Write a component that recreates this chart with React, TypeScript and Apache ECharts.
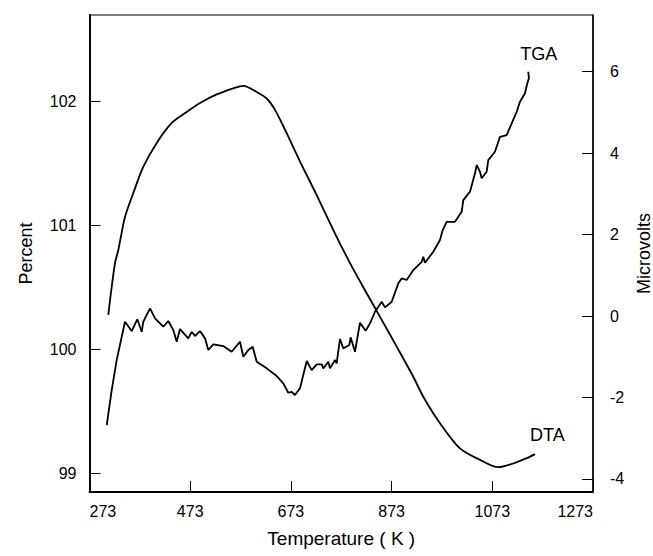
import { useEffect, useRef } from "react";
import * as echarts from "echarts";

const xTicks = [273, 473, 673, 873, 1073, 1273];
const percentTicks = [99, 100, 101, 102];
const microvoltTicks = [-4, -2, 0, 2, 4, 6];

// TGA curve (left axis, Percent)
const tgaTemp = [
  307.2, 317.1, 327.0, 343.5, 356.8, 367.9, 376.7, 379.8, 393.2, 403.1,
  419.6, 429.5, 439.4, 446.2, 452.7, 469.2, 476.0, 482.5, 492.5, 502.4,
  509.0, 518.9, 538.7, 555.4, 571.9, 578.5, 588.4, 597.1, 605.1, 624.9,
  644.8, 657.9, 667.8, 674.6, 681.1, 691.1, 704.4, 714.3, 724.2, 734.2,
  737.3, 747.3, 750.6, 760.6, 763.9, 770.5, 777.1, 789.0, 791.7, 800.3,
  810.2, 821.5, 830.1, 840.0, 853.3, 859.9, 873.2, 886.3, 893.0, 903.0,
  916.1, 932.8, 935.9, 939.3, 955.8, 969.1, 974.5, 982.4, 998.9, 1012.2,
  1015.4, 1028.7, 1038.6, 1042.0, 1048.5, 1051.9, 1061.8, 1065.0, 1078.3, 1088.3,
  1101.6, 1111.5, 1121.4, 1128.0, 1137.9, 1142.5, 1145.8, 1144.4,
];
const tgaPercent = [
  99.387, 99.670, 99.912, 100.221, 100.146, 100.241, 100.140, 100.221, 100.329, 100.249,
  100.181, 100.227, 100.154, 100.060, 100.162, 100.087, 100.140, 100.106, 100.146, 100.087,
  99.993, 100.039, 100.025, 99.979, 100.060, 99.939, 99.993, 100.019, 99.898, 99.845,
  99.783, 99.724, 99.648, 99.656, 99.630, 99.684, 99.904, 99.831, 99.877, 99.877,
  99.845, 99.898, 99.845, 99.912, 99.885, 100.082, 100.006, 100.033, 100.095, 99.979,
  100.213, 100.148, 100.208, 100.302, 100.383, 100.337, 100.383, 100.531, 100.571, 100.558,
  100.638, 100.705, 100.746, 100.697, 100.786, 100.881, 100.961, 101.028, 101.028, 101.109,
  101.203, 101.270, 101.419, 101.486, 101.432, 101.379, 101.432, 101.526, 101.593, 101.714,
  101.728, 101.822, 101.916, 101.997, 102.065, 102.145, 102.186, 102.239,
];

// DTA curve (right axis, Microvolts)
const dtaTemp = [
  310.3, 323.6, 330.2, 343.5, 360.0, 379.8, 406.5, 436.3, 466.0, 492.5,
  525.6, 558.6, 578.5, 605.1, 624.9, 641.4, 664.6, 691.1, 724.2, 757.2,
  790.4, 823.5, 850.0, 883.1, 916.1, 935.9, 969.1, 1008.8, 1048.5, 1084.9,
  1114.7, 1141.3, 1157.8,
];
const dtaMicrovolts = [
  0.03, 1.30, 1.62, 2.43, 3.02, 3.66, 4.25, 4.74, 5.01, 5.23,
  5.44, 5.59, 5.65, 5.50, 5.34, 5.06, 4.49, 3.79, 2.97, 2.11,
  1.30, 0.56, -0.02, -0.75, -1.49, -1.98, -2.63, -3.25, -3.53, -3.71,
  -3.62, -3.49, -3.39,
];

const FONT = "'Liberation Sans', Arial, Helvetica, sans-serif";

export default function App() {
  const ref = useRef<HTMLDivElement>(null);

  useEffect(() => {
    document.body.style.margin = "0";
    const chart = echarts.init(ref.current as HTMLDivElement, null, { renderer: "svg" });
    const option: any = {
      animation: false,
      backgroundColor: "#ffffff",
      textStyle: { fontFamily: FONT, color: "#000" },
      grid: {
        left: 89.5,
        right: 60,
        top: 15,
        bottom: 64,
        containLabel: false,
        outerBoundsMode: "none",
        show: true,
        borderColor: "#000",
        borderWidth: 1,
        backgroundColor: "transparent",
      },
      xAxis: {
        type: "value",
        min: xTicks[0],
        max: xTicks[xTicks.length - 1],
        interval: 200,
        name: "Temperature ( K )",
        nameLocation: "middle",
        nameGap: 37,
        nameTextStyle: { fontFamily: FONT, fontSize: 19, color: "#000" },
        axisLine: { show: true, onZero: false, lineStyle: { color: "#000", width: 2 } },
        axisTick: { show: true, inside: true, length: 11, lineStyle: { color: "#000", width: 1 } },
        axisLabel: {
          show: true,
          fontFamily: FONT,
          fontSize: 16,
          color: "#000",
          margin: 11,
          alignMinLabel: "left",
          alignMaxLabel: "right",
          formatter: (v: number) => String(v),
        },
        splitLine: { show: false },
      },
      yAxis: [
        {
          type: "value",
          position: "left",
          min: 98.847,
          max: 102.697,
          name: "Percent",
          nameLocation: "middle",
          nameGap: 55,
          nameTextStyle: { fontFamily: FONT, fontSize: 18, color: "#000" },
          axisLine: { show: true, onZero: false, lineStyle: { color: "#000", width: 2 } },
          axisTick: {
            show: true,
            inside: true,
            length: 11,
            customValues: percentTicks,
            lineStyle: { color: "#000", width: 1 },
          },
          axisLabel: {
            show: true,
            fontFamily: FONT,
            fontSize: 16,
            color: "#000",
            margin: 13,
            customValues: percentTicks,
            formatter: (v: number) => String(Math.round(v)),
          },
          splitLine: { show: false },
        },
        {
          type: "value",
          position: "right",
          min: -4.32,
          max: 7.39,
          name: "Microvolts",
          nameLocation: "middle",
          nameGap: 29,
          nameTextStyle: { fontFamily: FONT, fontSize: 18, color: "#000" },
          axisLine: { show: true, onZero: false, lineStyle: { color: "#000", width: 1.5 } },
          axisTick: {
            show: true,
            inside: true,
            length: 11,
            customValues: microvoltTicks,
            lineStyle: { color: "#000", width: 1 },
          },
          axisLabel: {
            show: true,
            fontFamily: FONT,
            fontSize: 16,
            color: "#000",
            margin: 17,
            align: "left",
            customValues: microvoltTicks,
            formatter: (v: number) => String(Math.round(v)),
          },
          splitLine: { show: false },
        },
      ],
      series: [
        {
          type: "line",
          name: "TGA",
          yAxisIndex: 0,
          data: tgaTemp.map((t, i) => [t, tgaPercent[i]]),
          showSymbol: false,
          symbol: "none",
          silent: true,
          emphasis: { disabled: true },
          lineStyle: { color: "#000", width: 1.8 },
          endLabel: {
            show: true,
            formatter: "TGA",
            fontFamily: FONT,
            fontSize: 18,
            color: "#000",
            offset: [-16, -18],
          },
        },
        {
          type: "line",
          name: "DTA",
          yAxisIndex: 1,
          data: dtaTemp.map((t, i) => [t, dtaMicrovolts[i]]),
          showSymbol: false,
          symbol: "none",
          smooth: 0.3,
          silent: true,
          emphasis: { disabled: true },
          lineStyle: { color: "#000", width: 1.8 },
          endLabel: {
            show: true,
            formatter: "DTA",
            fontFamily: FONT,
            fontSize: 18,
            color: "#000",
            offset: [-13, -19],
          },
        },
      ],
    };
    chart.setOption(option);
    return () => chart.dispose();
  }, []);

  return <div ref={ref} style={{ width: 653, height: 556, background: "#fff" }} />;
}
